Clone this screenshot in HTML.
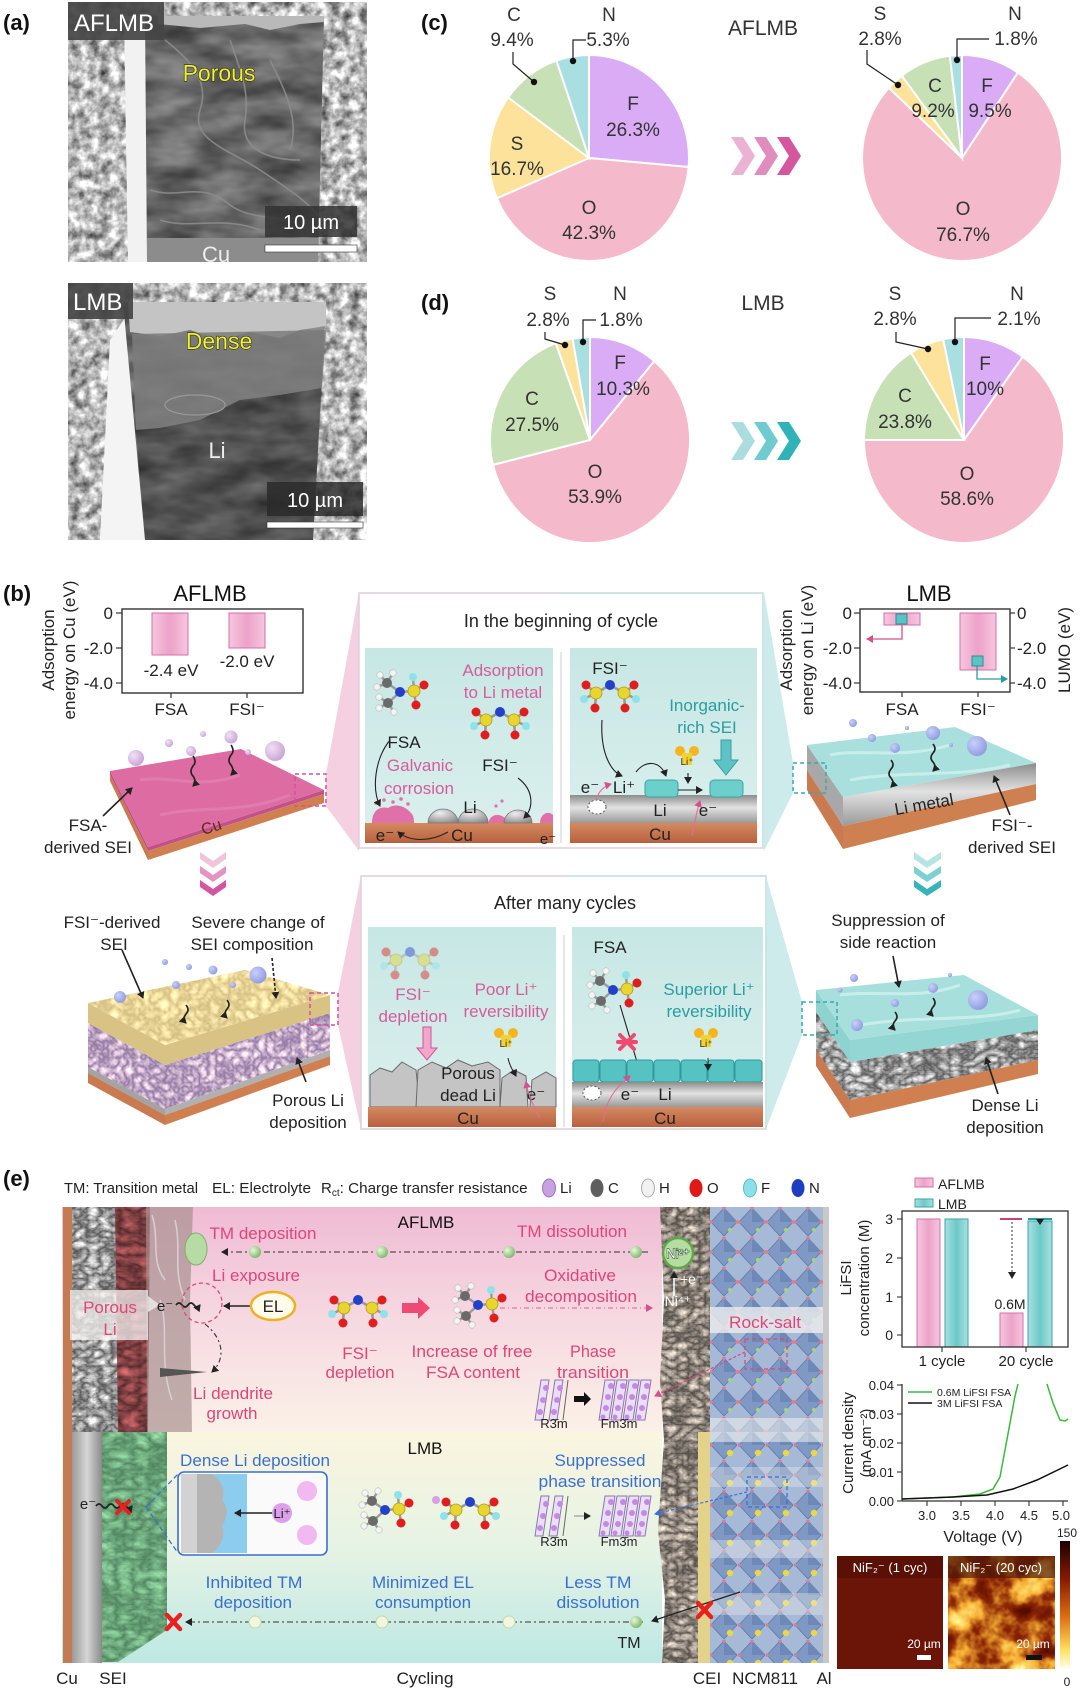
<!DOCTYPE html>
<html><head><meta charset="utf-8"><style>
html,body{margin:0;padding:0;background:#fff;}
svg{display:block;font-family:"Liberation Sans",Arial,sans-serif;}
</style></head><body>
<svg width="1080" height="1689" viewBox="0 0 1080 1689" xmlns="http://www.w3.org/2000/svg">
<defs>
<filter id="fLight" x="0" y="0" width="1" height="1" color-interpolation-filters="sRGB">
<feTurbulence type="fractalNoise" baseFrequency="0.1" numOctaves="4" seed="4"/>
<feColorMatrix type="matrix" values="1.2 0 0 0 0.12  1.2 0 0 0 0.12  1.2 0 0 0 0.12  0 0 0 0 1"/>
<feComposite operator="in" in2="SourceGraphic"/></filter>
<filter id="fDark" x="0" y="0" width="1" height="1" color-interpolation-filters="sRGB">
<feTurbulence type="fractalNoise" baseFrequency="0.02 0.05" numOctaves="3" seed="9"/>
<feColorMatrix type="matrix" values="0.45 0 0 0 0.18  0.45 0 0 0 0.18  0.45 0 0 0 0.18  0 0 0 0 1"/>
<feComposite operator="in" in2="SourceGraphic"/></filter>
<filter id="fMaroon" x="0" y="0" width="1" height="1" color-interpolation-filters="sRGB">
<feTurbulence type="turbulence" baseFrequency="0.05 0.09" numOctaves="3" seed="5"/>
<feColorMatrix type="matrix" values="0.7 0 0 0 0.3  0.35 0 0 0 0.15  0.35 0 0 0 0.16  0 0 0 0 1"/>
<feComposite operator="in" in2="SourceGraphic"/></filter>
<filter id="fGreen" x="0" y="0" width="1" height="1" color-interpolation-filters="sRGB">
<feTurbulence type="turbulence" baseFrequency="0.06 0.1" numOctaves="3" seed="6"/>
<feColorMatrix type="matrix" values="0.4 0 0 0 0.3  0.5 0 0 0 0.5  0.4 0 0 0 0.36  0 0 0 0 1"/>
<feComposite operator="in" in2="SourceGraphic"/></filter>
<filter id="fGray" x="0" y="0" width="1" height="1" color-interpolation-filters="sRGB">
<feTurbulence type="turbulence" baseFrequency="0.08 0.12" numOctaves="3" seed="2"/>
<feColorMatrix type="matrix" values="1.0 0 0 0 0.3  1.0 0 0 0 0.3  1.0 0 0 0 0.3  0 0 0 0 1"/>
<feComposite operator="in" in2="SourceGraphic"/></filter>
<filter id="fCEI" x="0" y="0" width="1" height="1" color-interpolation-filters="sRGB">
<feTurbulence type="turbulence" baseFrequency="0.09 0.12" numOctaves="3" seed="11"/>
<feColorMatrix type="matrix" values="0.9 0 0 0 0.28  0.85 0 0 0 0.26  0.8 0 0 0 0.24  0 0 0 0 1"/>
<feComposite operator="in" in2="SourceGraphic"/></filter>
<filter id="fPurple" x="0" y="0" width="1" height="1" color-interpolation-filters="sRGB">
<feTurbulence type="turbulence" baseFrequency="0.12" numOctaves="2" seed="3"/>
<feColorMatrix type="matrix" values="0.8 0 0 0 0.55  0.8 0 0 0 0.45  0.6 0 0 0 0.62  0 0 0 0 1"/>
<feComposite operator="in" in2="SourceGraphic"/></filter>
<filter id="fBeige" x="0" y="0" width="1" height="1" color-interpolation-filters="sRGB">
<feTurbulence type="turbulence" baseFrequency="0.1" numOctaves="2" seed="8"/>
<feColorMatrix type="matrix" values="0.4 0 0 0 0.82  0.4 0 0 0 0.74  0.4 0 0 0 0.5  0 0 0 0 1"/>
<feComposite operator="in" in2="SourceGraphic"/></filter>
<filter id="fHeat" x="0" y="0" width="1" height="1" color-interpolation-filters="sRGB">
<feTurbulence type="fractalNoise" baseFrequency="0.035" numOctaves="4" seed="7"/>
<feColorMatrix type="matrix" values="1 0 0 0 0  1 0 0 0 0  1 0 0 0 0  0 0 0 0 1"/>
<feComponentTransfer>
<feFuncR type="table" tableValues="0.3 0.35 0.55 0.97 1 1"/>
<feFuncG type="table" tableValues="0.03 0.05 0.15 0.68 0.97 1"/>
<feFuncB type="table" tableValues="0 0 0.02 0.2 0.55 0.8"/>
</feComponentTransfer>
<feComposite operator="in" in2="SourceGraphic"/></filter>

<clipPath id="cA1"><rect x="68" y="2" width="299" height="260"/></clipPath>
<clipPath id="cA2"><rect x="68" y="283" width="299" height="257"/></clipPath>

<linearGradient id="gBarP" x1="0" y1="0" x2="1" y2="0">
<stop offset="0" stop-color="#f6c6de"/><stop offset="0.5" stop-color="#eda2c9"/><stop offset="1" stop-color="#f6c6de"/></linearGradient>
<linearGradient id="gBarT" x1="0" y1="0" x2="1" y2="0">
<stop offset="0" stop-color="#a9e0de"/><stop offset="0.5" stop-color="#6cc9c8"/><stop offset="1" stop-color="#a9e0de"/></linearGradient>
<linearGradient id="gPanel" x1="0" y1="0" x2="0" y2="1">
<stop offset="0" stop-color="#c7e7e4"/><stop offset="1" stop-color="#dcf0ee"/></linearGradient>
<linearGradient id="gCu" x1="0" y1="0" x2="0" y2="1">
<stop offset="0" stop-color="#d48a60"/><stop offset="1" stop-color="#b8603e"/></linearGradient>
<linearGradient id="gLi" x1="0" y1="0" x2="0" y2="1">
<stop offset="0" stop-color="#8c8c8c"/><stop offset="0.45" stop-color="#e2e2e2"/><stop offset="1" stop-color="#999"/></linearGradient>
<linearGradient id="gLiV" x1="0" y1="0" x2="1" y2="0">
<stop offset="0" stop-color="#9a9a9a"/><stop offset="0.5" stop-color="#d6d6d6"/><stop offset="1" stop-color="#8a8a8a"/></linearGradient>
<linearGradient id="gETop" x1="0" y1="0" x2="0" y2="1">
<stop offset="0" stop-color="#efbbd4"/><stop offset="0.5" stop-color="#f6d9e1"/><stop offset="1" stop-color="#fbf1e7"/></linearGradient>
<linearGradient id="gEBot" x1="0" y1="0" x2="0" y2="1">
<stop offset="0" stop-color="#faf5df"/><stop offset="0.5" stop-color="#e6f3e4"/><stop offset="1" stop-color="#bde8e4"/></linearGradient>
<linearGradient id="gCbar" x1="0" y1="0" x2="0" y2="1">
<stop offset="0" stop-color="#1a0000"/><stop offset="0.3" stop-color="#8a1a02"/><stop offset="0.6" stop-color="#e07010"/><stop offset="0.85" stop-color="#ffe060"/><stop offset="1" stop-color="#fffff0"/></linearGradient>
<radialGradient id="gBubP" cx="0.35" cy="0.35" r="0.7">
<stop offset="0" stop-color="#f1e1f4"/><stop offset="1" stop-color="#c9a3d6"/></radialGradient>
<radialGradient id="gBubB" cx="0.35" cy="0.35" r="0.7">
<stop offset="0" stop-color="#c9d0fa"/><stop offset="1" stop-color="#8f9be0"/></radialGradient>
<radialGradient id="gDotG" cx="0.35" cy="0.35" r="0.7">
<stop offset="0" stop-color="#e8f8dc"/><stop offset="1" stop-color="#7db56a"/></radialGradient>
<radialGradient id="gBump" cx="0.4" cy="0.3" r="0.8">
<stop offset="0" stop-color="#eee"/><stop offset="1" stop-color="#888"/></radialGradient>

<pattern id="pNCM" x="710" y="1207" width="28" height="30" patternUnits="userSpaceOnUse">
<rect width="28" height="30" fill="#a6b9d6"/>
<polygon points="14,1 27,15 14,29 1,15" fill="#7f99c4" stroke="#5c79a8" stroke-width="0.8"/>
<polygon points="14,1 27,15 14,15" fill="#6d89b8"/>
<circle cx="14" cy="1" r="1.8" fill="#e27a92"/><circle cx="1" cy="15" r="1.8" fill="#e27a92"/>
<circle cx="27" cy="15" r="1.8" fill="#e27a92"/><circle cx="20" cy="23" r="2" fill="#a6d67c"/>
</pattern>
<pattern id="pNCM2" x="710" y="1430" width="28" height="30" patternUnits="userSpaceOnUse">
<rect width="28" height="30" fill="#a6b9d6"/>
<polygon points="14,1 27,15 14,29 1,15" fill="#7f99c4" stroke="#5c79a8" stroke-width="0.8"/>
<polygon points="14,1 27,15 14,15" fill="#6d89b8"/>
<circle cx="14" cy="1" r="1.8" fill="#e27a92"/><circle cx="1" cy="15" r="1.8" fill="#e27a92"/>
<circle cx="20" cy="23" r="3.2" fill="#e8d84a"/>
</pattern>

<g id="mFSI">
<g stroke="#9a9a9a" stroke-width="2.6">
<line x1="0" y1="-10" x2="-14" y2="-2"/><line x1="0" y1="-10" x2="14" y2="-2"/>
<line x1="-14" y1="-2" x2="-24" y2="-10"/><line x1="-14" y1="-2" x2="-15" y2="13"/><line x1="-14" y1="-2" x2="-26" y2="4"/>
<line x1="14" y1="-2" x2="24" y2="-10"/><line x1="14" y1="-2" x2="15" y2="13"/><line x1="14" y1="-2" x2="26" y2="4"/>
</g>
<circle cx="0" cy="-10" r="5" fill="#2340c8"/>
<circle cx="-14" cy="-2" r="6" fill="#e9d530" stroke="#b29c12" stroke-width="0.8"/>
<circle cx="14" cy="-2" r="6" fill="#e9d530" stroke="#b29c12" stroke-width="0.8"/>
<circle cx="-24" cy="-10" r="4.5" fill="#e01e1e"/><circle cx="-15" cy="13" r="4.5" fill="#e01e1e"/>
<circle cx="24" cy="-10" r="4.5" fill="#e01e1e"/><circle cx="15" cy="13" r="4.5" fill="#e01e1e"/>
<circle cx="-26" cy="4" r="4" fill="#8fe2ea"/><circle cx="26" cy="4" r="4" fill="#8fe2ea"/>
</g>
<g id="mFSA">
<g stroke="#9a9a9a" stroke-width="2.4">
<line x1="0" y1="0" x2="-13" y2="-9"/><line x1="0" y1="0" x2="-12" y2="11"/><line x1="0" y1="0" x2="14" y2="-1"/>
<line x1="-13" y1="-9" x2="-20" y2="-17"/><line x1="-13" y1="-9" x2="-7" y2="-19"/><line x1="-13" y1="-9" x2="-23" y2="-5"/>
<line x1="-12" y1="11" x2="-21" y2="16"/><line x1="-12" y1="11" x2="-6" y2="20"/><line x1="-12" y1="11" x2="-21" y2="5"/>
<line x1="14" y1="-1" x2="24" y2="-7"/><line x1="14" y1="-1" x2="16" y2="13"/><line x1="14" y1="-1" x2="13" y2="-15"/>
</g>
<circle cx="-13" cy="-9" r="5" fill="#6a6a6a"/><circle cx="-12" cy="11" r="5" fill="#6a6a6a"/>
<circle cx="-20" cy="-17" r="3.2" fill="#f4f4f4" stroke="#aaa" stroke-width=".5"/><circle cx="-7" cy="-19" r="3.2" fill="#f4f4f4" stroke="#aaa" stroke-width=".5"/>
<circle cx="-23" cy="-5" r="3.2" fill="#f4f4f4" stroke="#aaa" stroke-width=".5"/><circle cx="-21" cy="16" r="3.2" fill="#f4f4f4" stroke="#aaa" stroke-width=".5"/>
<circle cx="-6" cy="20" r="3.2" fill="#f4f4f4" stroke="#aaa" stroke-width=".5"/><circle cx="-21" cy="5" r="3.2" fill="#f4f4f4" stroke="#aaa" stroke-width=".5"/>
<circle cx="0" cy="0" r="5" fill="#2340c8"/>
<circle cx="14" cy="-1" r="6" fill="#e9d530" stroke="#b29c12" stroke-width="0.8"/>
<circle cx="24" cy="-7" r="4.5" fill="#e01e1e"/><circle cx="16" cy="13" r="4.5" fill="#e01e1e"/>
<circle cx="13" cy="-15" r="4" fill="#8fe2ea"/>
</g>
<g id="liY">
<circle cx="-7" cy="-7" r="5" fill="#f6b41e"/><circle cx="7" cy="-7" r="5" fill="#f6b41e"/>
<rect x="-5" y="-5" width="10" height="12" fill="#f2d233"/>
</g>
<g id="xtal">
<g fill="#eadff6" stroke="#8a78b0" stroke-width="1">
<polygon points="6,0 14,0 8,40 0,40"/><polygon points="20,0 28,0 22,40 14,40"/>
</g>
<g fill="#c48ae2"><circle cx="11" cy="8" r="3"/><circle cx="8" cy="20" r="3"/><circle cx="5" cy="32" r="3"/>
<circle cx="25" cy="8" r="3"/><circle cx="22" cy="20" r="3"/><circle cx="19" cy="32" r="3"/></g>
<line x1="33" y1="0" x2="28" y2="40" stroke="#666" stroke-width="1"/>
<g fill="#eadff6" stroke="#8a78b0" stroke-width="1">
<polygon points="70,0 80,0 74,40 64,40"/><polygon points="82,0 92,0 86,40 76,40"/><polygon points="94,0 104,0 98,40 88,40"/><polygon points="106,0 116,0 110,40 100,40"/>
</g>
<g fill="#c48ae2">
<circle cx="76" cy="6" r="3"/><circle cx="73" cy="17" r="3"/><circle cx="71" cy="28" r="3"/><circle cx="68" cy="37" r="2.5"/>
<circle cx="88" cy="6" r="3"/><circle cx="85" cy="17" r="3"/><circle cx="83" cy="28" r="3"/><circle cx="80" cy="37" r="2.5"/>
<circle cx="100" cy="6" r="3"/><circle cx="97" cy="17" r="3"/><circle cx="95" cy="28" r="3"/><circle cx="92" cy="37" r="2.5"/>
<circle cx="112" cy="6" r="3"/><circle cx="109" cy="17" r="3"/><circle cx="107" cy="28" r="3"/><circle cx="104" cy="37" r="2.5"/>
</g>
</g>
<marker id="ahB" markerWidth="8" markerHeight="8" refX="6" refY="4" orient="auto" markerUnits="userSpaceOnUse">
<path d="M0,0 L7,4 L0,8 Z" fill="#222"/></marker>
<marker id="ahP" markerWidth="8" markerHeight="8" refX="6" refY="4" orient="auto" markerUnits="userSpaceOnUse">
<path d="M0,0 L7,4 L0,8 Z" fill="#d6508c"/></marker>
<marker id="ahT" markerWidth="8" markerHeight="8" refX="6" refY="4" orient="auto" markerUnits="userSpaceOnUse">
<path d="M0,0 L7,4 L0,8 Z" fill="#2a9da3"/></marker>
<marker id="ahBl" markerWidth="8" markerHeight="8" refX="6" refY="4" orient="auto" markerUnits="userSpaceOnUse">
<path d="M0,0 L7,4 L0,8 Z" fill="#3a6fd8"/></marker>
</defs>

<rect width="1080" height="1689" fill="#fff"/>

<!-- ============ PANEL A ============ -->
<text x="3" y="30" font-size="22" font-weight="bold" fill="#111">(a)</text>
<g clip-path="url(#cA1)">
<rect x="68" y="2" width="299" height="260" fill="#ccc" filter="url(#fLight)"/>
<polygon points="124,16 146,16 148,262 128,262" fill="#f2f2f2"/>
<polygon points="145,16 324,16 318,262 147,262" fill="#666" filter="url(#fDark)"/>
<path d="M158,16 L324,16 L324,22 L300,24 L270,30 L245,24 L200,28 L158,24 Z" fill="#b9b9b9"/>
<g fill="none" stroke="#8e8e8e" stroke-width="1.6" opacity="0.85">
<path d="M165,40 C190,60 210,80 200,110 C190,140 230,150 260,170 C290,190 305,200 318,215"/>
<path d="M230,40 C240,70 250,90 245,120 C240,150 270,160 300,160"/>
<path d="M150,190 C180,200 200,180 230,205 C250,220 280,215 300,225"/>
<path d="M160,220 C190,230 220,215 260,230"/>
<path d="M270,60 C285,90 300,120 290,150"/>
</g>
<rect x="147" y="238" width="171" height="24" fill="#8c8c8c"/>
<rect x="68" y="2" width="96" height="38" fill="#444" opacity="0.92"/>
<text x="74" y="31" font-size="24" fill="#fff">AFLMB</text>
<text x="219" y="81" font-size="23" text-anchor="middle" fill="#f2f22a" stroke="#2a2a2a" stroke-width="1.2" paint-order="stroke">Porous</text>
<rect x="265" y="206" width="92" height="31" fill="#333" opacity="0.85"/>
<text x="311" y="229" font-size="20" text-anchor="middle" fill="#fff">10 µm</text>
<rect x="265" y="245" width="92" height="7" fill="#fff" stroke="#333" stroke-width="0.6"/>
<text x="216" y="262" font-size="22" text-anchor="middle" fill="#eee">Cu</text>
</g>
<g clip-path="url(#cA2)">
<rect x="68" y="283" width="299" height="257" fill="#ccc" filter="url(#fLight)"/>
<polygon points="110,340 137,300 146,540 100,540" fill="#f4f4f4"/>
<polygon points="123,302 326,302 313,540 145,540" fill="#555" filter="url(#fDark)"/>
<path d="M128,302 L326,302 L326,326 L300,330 L280,338 L250,332 L220,340 L190,330 L160,336 L130,332 Z" fill="#c4c4c4"/>
<path d="M132,334 L326,330 L322,388 L280,395 L240,400 L200,420 L160,428 L136,430 Z" fill="#7c7c7c" opacity="0.85"/>
<path d="M136,430 L160,428 L200,420 L240,400 L280,395 L322,388 L313,540 L145,540 Z" fill="#000" opacity="0.22"/>
<ellipse cx="195" cy="405" rx="30" ry="10" fill="none" stroke="#999" stroke-width="1.2"/>
<rect x="68" y="283" width="65" height="36" fill="#444" opacity="0.92"/>
<text x="73" y="310" font-size="24" fill="#fff">LMB</text>
<text x="219" y="349" font-size="23" text-anchor="middle" fill="#f2f22a" stroke="#2a2a2a" stroke-width="1.2" paint-order="stroke">Dense</text>
<text x="217" y="458" font-size="22" text-anchor="middle" fill="#eee">Li</text>
<rect x="267" y="482" width="96" height="34" fill="#2a2a2a" opacity="0.85"/>
<text x="315" y="507" font-size="20" text-anchor="middle" fill="#fff">10 µm</text>
<rect x="267" y="522" width="96" height="6" fill="#fff" stroke="#333" stroke-width="0.6"/>
</g>

<!-- ============ PANEL C/D pies ============ -->
<text x="421" y="30" font-size="22" font-weight="bold" fill="#111">(c)</text>
<text x="421" y="310" font-size="22" font-weight="bold" fill="#111">(d)</text>
<g stroke="#fff" stroke-width="2">
<path d="M589,158 L589,55 A100,103 0 0,1 688.6,167 Z" fill="#d9acf5"/>
<path d="M589,158 L688.6,167 A100,103 0 0,1 496.9,198.2 Z" fill="#f4b9cb"/>
<path d="M589,158 L496.9,198.2 A100,103 0 0,1 508.1,97.5 Z" fill="#fce29a"/>
<path d="M589,158 L508.1,97.5 A100,103 0 0,1 556.4,60.6 Z" fill="#c8e0b6"/>
<path d="M589,158 L556.4,60.6 A100,103 0 0,1 589,55 Z" fill="#aadfe2"/>
<path d="M962,158 L962,55 A100,103 0 0,1 1017.9,72.6 Z" fill="#d9acf5"/>
<path d="M962,158 L1017.9,72.6 A100,103 0 1,1 888.9,87.8 Z" fill="#f4b9cb"/>
<path d="M962,158 L888.9,87.8 A100,103 0 0,1 901.8,75.7 Z" fill="#fce29a"/>
<path d="M962,158 L901.8,75.7 A100,103 0 0,1 949.8,55.8 Z" fill="#c8e0b6"/>
<path d="M962,158 L949.8,55.8 A100,103 0 0,1 962,55 Z" fill="#aadfe2"/>
<path d="M590,440 L590,337 A100,103 0 0,1 654.3,361.1 Z" fill="#d9acf5"/>
<path d="M590,440 L654.3,361.1 A100,103 0 1,1 493,464.9 Z" fill="#f4b9cb"/>
<path d="M590,440 L493,464.9 A100,103 0 0,1 555.8,343.2 Z" fill="#c8e0b6"/>
<path d="M590,440 L555.8,343.2 A100,103 0 0,1 572.6,338.6 Z" fill="#fce29a"/>
<path d="M590,440 L572.6,338.6 A100,103 0 0,1 590,337 Z" fill="#aadfe2"/>
<path d="M964,440 L964,337 A100,103 0 0,1 1022.8,356.7 Z" fill="#d9acf5"/>
<path d="M964,440 L1022.8,356.7 A100,103 0 1,1 864,440 Z" fill="#f4b9cb"/>
<path d="M964,440 L864,440 A100,103 0 0,1 911,352.7 Z" fill="#c8e0b6"/>
<path d="M964,440 L911,352.7 A100,103 0 0,1 943.2,339.3 Z" fill="#fce29a"/>
<path d="M964,440 L943.2,339.3 A100,103 0 0,1 964,337 Z" fill="#aadfe2"/>
</g>
<g font-size="19" text-anchor="middle" fill="#333">
<text x="514" y="21">C</text><text x="512" y="46">9.4%</text>
<text x="609" y="21">N</text><text x="608" y="46">5.3%</text>
<text x="633" y="110">F</text><text x="633" y="136">26.3%</text>
<text x="517" y="150">S</text><text x="517" y="175">16.7%</text>
<text x="589" y="214">O</text><text x="589" y="239">42.3%</text>
<text x="880" y="20">S</text><text x="880" y="45">2.8%</text>
<text x="1015" y="20">N</text><text x="1016" y="45">1.8%</text>
<text x="935" y="92">C</text><text x="933" y="117">9.2%</text>
<text x="987" y="92">F</text><text x="990" y="117">9.5%</text>
<text x="963" y="215">O</text><text x="963" y="241">76.7%</text>
<text x="550" y="300">S</text><text x="548" y="326">2.8%</text>
<text x="620" y="300">N</text><text x="621" y="326">1.8%</text>
<text x="620" y="369">F</text><text x="623" y="395">10.3%</text>
<text x="532" y="405">C</text><text x="532" y="431">27.5%</text>
<text x="595" y="478">O</text><text x="595" y="503">53.9%</text>
<text x="895" y="300">S</text><text x="895" y="325">2.8%</text>
<text x="1017" y="300">N</text><text x="1019" y="325">2.1%</text>
<text x="985" y="370">F</text><text x="985" y="395">10%</text>
<text x="905" y="402">C</text><text x="905" y="428">23.8%</text>
<text x="967" y="480">O</text><text x="967" y="505">58.6%</text>
<text x="763" y="35" font-size="21">AFLMB</text>
<text x="763" y="310" font-size="21">LMB</text>
</g>
<g fill="none" stroke="#222" stroke-width="1.2">
<polyline points="513,52 513,64 534,82"/><polyline points="586,40 573,40 573,61"/>
<polyline points="867,50 867,64 898,85"/><polyline points="989,39 957,39 957,60"/>
<polyline points="545,332 545,339 565,345"/><polyline points="596,320 583,320 583,342"/>
<polyline points="896,332 896,342 928,349"/><polyline points="991,318 955,318 955,342"/>
</g>
<g fill="#111">
<circle cx="534" cy="82" r="3.2"/><circle cx="573" cy="61" r="3.2"/><circle cx="898" cy="85" r="3.2"/><circle cx="957" cy="60" r="3.2"/>
<circle cx="565" cy="345" r="3.2"/><circle cx="583" cy="342" r="3.2"/><circle cx="928" cy="349" r="3.2"/><circle cx="955" cy="342" r="3.2"/>
</g>
<polygon points="731,137 743,137 755,156 743,175 731,175 743,156" fill="#ebb3d3"/>
<polygon points="754,137 766,137 778,156 766,175 754,175 766,156" fill="#e08dbd"/>
<polygon points="777,137 789,137 801,156 789,175 777,175 789,156" fill="#d3569f"/>
<polygon points="731,422 743,422 755,441 743,460 731,460 743,441" fill="#abdddf"/>
<polygon points="754,422 766,422 778,441 766,460 754,460 766,441" fill="#6fcbcf"/>
<polygon points="777,422 789,422 801,441 789,460 777,460 789,441" fill="#2fb2b8"/>

<!-- ============ PANEL B ============ -->
<text x="3" y="601" font-size="22" font-weight="bold" fill="#111">(b)</text>
<polygon points="326,774 359,592 359,851 326,806" fill="#f4d0e1"/>
<polygon points="764,592 793,763 793,793 764,851" fill="#cdebea"/>
<polygon points="338,993 361,876 361,1129 338,1025" fill="#f4d0e1"/>
<polygon points="766,876 802,1002 802,1035 766,1129" fill="#cdebea"/>

<text x="210" y="601" font-size="22" text-anchor="middle" fill="#111">AFLMB</text>
<rect x="152" y="613" width="36" height="42" fill="url(#gBarP)" stroke="#d070a8" stroke-width="1"/>
<rect x="229" y="613" width="36" height="35" fill="url(#gBarP)" stroke="#d070a8" stroke-width="1"/>
<rect x="122" y="609" width="181" height="84" fill="none" stroke="#333" stroke-width="1.4"/>
<g stroke="#333" stroke-width="1.2"><line x1="116" y1="613" x2="122" y2="613"/><line x1="116" y1="648" x2="122" y2="648"/><line x1="116" y1="683" x2="122" y2="683"/>
<line x1="171" y1="693" x2="171" y2="698"/><line x1="247" y1="693" x2="247" y2="698"/></g>
<g font-size="17" fill="#222">
<text x="113" y="619" text-anchor="end">0</text><text x="113" y="654" text-anchor="end">-2.0</text><text x="113" y="689" text-anchor="end">-4.0</text>
<text x="171" y="676" text-anchor="middle">-2.4 eV</text><text x="247" y="667" text-anchor="middle">-2.0 eV</text>
<text x="171" y="715" text-anchor="middle">FSA</text><text x="247" y="715" text-anchor="middle">FSI⁻</text>
<text transform="translate(54,650) rotate(-90)" text-anchor="middle">Adsorption</text>
<text transform="translate(75,650) rotate(-90)" text-anchor="middle">energy on Cu (eV)</text>
</g>

<text x="929" y="601" font-size="22" text-anchor="middle" fill="#111">LMB</text>
<rect x="884" y="613" width="36" height="12" fill="url(#gBarP)" stroke="#d070a8" stroke-width="1"/>
<rect x="960" y="613" width="36" height="57" fill="url(#gBarP)" stroke="#d070a8" stroke-width="1"/>
<rect x="896" y="614" width="11" height="10" fill="#5bc3c4" stroke="#2a8f95"/>
<rect x="972" y="656" width="11" height="10" fill="#5bc3c4" stroke="#2a8f95"/>
<polyline points="902,625 902,639 867,639" fill="none" stroke="#d6508c" stroke-width="1.3" marker-end="url(#ahP)"/>
<polyline points="977,666 977,679 1007,679" fill="none" stroke="#2a9da3" stroke-width="1.3" marker-end="url(#ahT)"/>
<rect x="860" y="609" width="150" height="83" fill="none" stroke="#333" stroke-width="1.4"/>
<g stroke="#333" stroke-width="1.2"><line x1="854" y1="613" x2="860" y2="613"/><line x1="854" y1="648" x2="860" y2="648"/><line x1="854" y1="683" x2="860" y2="683"/>
<line x1="1010" y1="613" x2="1015" y2="613"/><line x1="1010" y1="648" x2="1015" y2="648"/><line x1="1010" y1="683" x2="1015" y2="683"/>
<line x1="902" y1="692" x2="902" y2="697"/><line x1="978" y1="692" x2="978" y2="697"/></g>
<g font-size="17" fill="#222">
<text x="852" y="619" text-anchor="end">0</text><text x="852" y="654" text-anchor="end">-2.0</text><text x="852" y="689" text-anchor="end">-4.0</text>
<text x="1017" y="619">0</text><text x="1017" y="654">-2.0</text><text x="1017" y="689">-4.0</text>
<text x="902" y="715" text-anchor="middle">FSA</text><text x="978" y="715" text-anchor="middle">FSI⁻</text>
<text transform="translate(792,650) rotate(-90)" text-anchor="middle">Adsorption</text>
<text transform="translate(813,650) rotate(-90)" text-anchor="middle">energy on Li (eV)</text>
<text transform="translate(1070,650) rotate(-90)" text-anchor="middle">LUMO (eV)</text>
</g>

<!-- AFLMB top slab -->
<polygon points="110,771 148,847 148,851 110,775" fill="#c2508a"/>
<polygon points="110,775 148,851 148,860 110,781" fill="#c77a4c"/>
<polygon points="148,847 324,790 324,794 148,851" fill="#c2508a"/>
<polygon points="148,851 324,794 324,803 148,860" fill="#d08050"/>
<polygon points="110,771 241,749 324,790 148,847" fill="#dc6ca2"/>
<path d="M140,780 C170,775 200,790 240,775 M160,815 C200,805 240,815 290,795" stroke="#e588b6" stroke-width="3" fill="none" opacity="0.6"/>
<text transform="translate(213,832) rotate(-18)" font-size="16" text-anchor="middle" fill="#5a2a1a">Cu</text>
<g fill="url(#gBubP)">
<circle cx="136" cy="758" r="8"/><circle cx="169" cy="743" r="4"/><circle cx="191" cy="751" r="5"/><circle cx="203" cy="734" r="3"/><circle cx="231" cy="737" r="6.5"/><circle cx="275" cy="751" r="10"/><circle cx="248" cy="752" r="3"/>
</g>
<g fill="none" stroke="#222" stroke-width="1.6">
<path d="M193,756 q4,6 0,10 q-4,6 0,10 q4,6 0,10" marker-end="url(#ahB)"/>
<path d="M231,745 q4,6 0,10 q-4,6 0,10 q4,6 0,10" marker-end="url(#ahB)"/>
<line x1="103" y1="816" x2="132" y2="788" marker-end="url(#ahB)"/>
</g>
<rect x="295" y="774" width="31" height="32" fill="none" stroke="#d6509a" stroke-width="1.5" stroke-dasharray="4,3"/>
<g font-size="17" text-anchor="middle" fill="#222"><text x="88" y="831">FSA-</text><text x="88" y="853">derived SEI</text></g>
<polygon points="200,852 213,861 226,852 226,859 213,868 200,859" fill="#f2c4da"/>
<polygon points="200,866 213,875 226,866 226,873 213,882 200,873" fill="#e494c2"/>
<polygon points="200,880 213,889 226,880 226,887 213,896 200,887" fill="#d3569f"/>

<!-- LMB top slab -->
<polygon points="807,745 843,797 843,826 807,770" fill="#a8a8a8"/>
<polygon points="807,770 843,826 843,849 807,790" fill="#c97a50"/>
<polygon points="843,797 1036,763 1036,784 843,826" fill="url(#gLi)"/>
<polygon points="843,826 1036,784 1036,800 843,849" fill="#cf8050"/>
<polygon points="807,745 955,727 1036,763 843,797" fill="#a9e0dd"/>
<path d="M830,755 C860,748 900,760 950,745 M850,780 C900,770 960,778 1010,765" stroke="#c8eeec" stroke-width="3" fill="none"/>
<text transform="translate(925,810) rotate(-10)" font-size="17" text-anchor="middle" fill="#222">Li metal</text>
<g fill="url(#gBubB)">
<circle cx="853" cy="723" r="4"/><circle cx="872" cy="738" r="4"/><circle cx="895" cy="748" r="5"/><circle cx="933" cy="733" r="7"/><circle cx="977" cy="746" r="10"/><circle cx="907" cy="728" r="2"/><circle cx="951" cy="745" r="2"/>
</g>
<g fill="none" stroke="#222" stroke-width="1.6">
<path d="M891,760 q4,5 0,9 q-4,5 0,9 q4,5 0,9" marker-end="url(#ahB)"/>
<path d="M933,744 q4,5 0,9 q-4,5 0,9 q4,5 0,9" marker-end="url(#ahB)"/>
<line x1="1010" y1="815" x2="994" y2="776" marker-end="url(#ahB)"/>
</g>
<rect x="793" y="763" width="33" height="30" fill="none" stroke="#3aa8ad" stroke-width="1.5" stroke-dasharray="4,3"/>
<g font-size="17" text-anchor="middle" fill="#222"><text x="1012" y="831">FSI⁻-</text><text x="1012" y="853">derived SEI</text></g>
<polygon points="914,852 927,861 941,852 941,859 927,868 914,859" fill="#b7e3e3"/>
<polygon points="914,866 927,875 941,866 941,873 927,882 914,873" fill="#7dd0d2"/>
<polygon points="914,880 927,889 941,880 941,887 927,896 914,887" fill="#36b4ba"/>

<!-- AFLMB lower slab -->
<polygon points="88,1003 165,1045 165,1065 88,1023" fill="#d9c384"/>
<polygon points="88,1023 165,1065 165,1109 88,1067" fill="#b9a0c8" filter="url(#fPurple)"/>
<polygon points="88,1067 165,1109 165,1115 88,1073" fill="#a3a3a3"/>
<polygon points="88,1073 165,1115 165,1125 88,1083" fill="#c97a50"/>
<polygon points="165,1045 330,995 330,1013 165,1065" fill="#d9c384"/>
<polygon points="165,1065 330,1013 330,1050 165,1109" fill="#b9a0c8" filter="url(#fPurple)"/>
<polygon points="165,1109 330,1050 330,1056 165,1115" fill="#b0b0b0"/>
<polygon points="165,1115 330,1056 330,1065 165,1125" fill="#d08050"/>
<polygon points="88,1003 245,970 330,995 165,1045" fill="#e2cf92" filter="url(#fBeige)"/>
<g fill="url(#gBubB)">
<circle cx="120" cy="997" r="6"/><circle cx="165" cy="962" r="3"/><circle cx="176" cy="985" r="4"/><circle cx="189" cy="967" r="3"/><circle cx="213" cy="970" r="4.5"/><circle cx="258" cy="975" r="8.5"/><circle cx="233" cy="985" r="3"/>
</g>
<g fill="none" stroke="#222" stroke-width="1.6">
<path d="M186,1005 q4,5 0,9 q-4,5 0,9" marker-end="url(#ahB)"/>
<path d="M227,1000 q4,5 0,9 q-4,5 0,9" marker-end="url(#ahB)"/>
<line x1="122" y1="950" x2="143" y2="998" marker-end="url(#ahB)"/>
<line x1="272" y1="958" x2="276" y2="998" marker-end="url(#ahB)" stroke-dasharray="3,2"/>
<line x1="306" y1="1082" x2="297" y2="1058" marker-end="url(#ahB)"/>
</g>
<rect x="310" y="993" width="28" height="32" fill="none" stroke="#d6509a" stroke-width="1.5" stroke-dasharray="4,3"/>
<g font-size="17" text-anchor="middle" fill="#222">
<text x="112" y="928">FSI⁻-derived</text><text x="114" y="950">SEI</text>
<text x="258" y="928">Severe change of</text><text x="252" y="950">SEI composition</text>
<text x="308" y="1106">Porous Li</text><text x="308" y="1128">deposition</text>
<text x="888" y="926">Suppression of</text><text x="888" y="948">side reaction</text>
<text x="1005" y="1111">Dense Li</text><text x="1005" y="1133">deposition</text>
</g>

<!-- LMB lower slab -->
<polygon points="816,990 850,1040 850,1062 816,1012" fill="#8fd3d0"/>
<polygon points="816,1012 850,1062 850,1100 816,1050" fill="#9a9a9a" filter="url(#fGray)"/>
<polygon points="816,1050 850,1100 850,1118 816,1066" fill="#c97a50"/>
<polygon points="850,1040 1038,1015 1038,1030 850,1062" fill="#93d6d3"/>
<polygon points="850,1062 1038,1030 1038,1060 850,1100" fill="#999" filter="url(#fGray)"/>
<polygon points="850,1100 1038,1060 1038,1074 850,1118" fill="#d08050"/>
<polygon points="816,990 964,975 1038,1015 850,1040" fill="#a6dfdc"/>
<path d="M840,995 C880,990 920,1000 960,985 M860,1025 C920,1015 980,1022 1020,1010" stroke="#c8eeec" stroke-width="3" fill="none"/>
<g fill="url(#gBubB)">
<circle cx="854" cy="978" r="4"/><circle cx="840" cy="990" r="2.5"/><circle cx="895" cy="1003" r="4"/><circle cx="933" cy="988" r="5"/><circle cx="857" cy="1025" r="6"/><circle cx="978" cy="1000" r="10"/><circle cx="950" cy="975" r="2"/>
</g>
<g fill="none" stroke="#222" stroke-width="1.6">
<path d="M895,1012 q4,5 0,9 q-4,5 0,9" marker-end="url(#ahB)"/>
<path d="M933,998 q4,5 0,9 q-4,5 0,9" marker-end="url(#ahB)"/>
<line x1="893" y1="956" x2="899" y2="987" marker-end="url(#ahB)"/>
<line x1="998" y1="1094" x2="986" y2="1058" marker-end="url(#ahB)"/>
</g>
<rect x="802" y="1002" width="35" height="33" fill="none" stroke="#3aa8ad" stroke-width="1.5" stroke-dasharray="4,3"/>

<!-- Top middle box -->
<rect x="359" y="593" width="404" height="255" fill="#fff" stroke="#e3d0dc" stroke-width="1.6"/>
<line x1="561" y1="593" x2="763" y2="593" stroke="#c6e6e5" stroke-width="1.6"/>
<line x1="763" y1="593" x2="763" y2="848" stroke="#c6e6e5" stroke-width="1.6"/>
<text x="561" y="627" font-size="18" text-anchor="middle" fill="#222">In the beginning of cycle</text>
<rect x="365" y="648" width="188" height="195" fill="url(#gPanel)"/>
<rect x="570" y="648" width="187" height="195" fill="url(#gPanel)"/>
<line x1="561" y1="652" x2="561" y2="843" stroke="#ccc" stroke-width="1"/>
<rect x="365" y="823" width="188" height="20" fill="url(#gCu)"/>
<path d="M372,823 C372,810 380,806 388,808 C395,803 405,806 410,812 C414,815 414,820 414,823 Z" fill="#e070a8"/>
<path d="M488,823 C490,815 498,812 505,818 L505,823 Z" fill="#e070a8"/>
<path d="M540,823 C540,814 548,810 553,815 L553,823 Z" fill="#e070a8"/>
<g fill="#e070a8"><circle cx="376" cy="803" r="1.8"/><circle cx="384" cy="800" r="1.8"/><circle cx="393" cy="802" r="1.8"/><circle cx="401" cy="799" r="1.8"/><circle cx="408" cy="804" r="1.8"/><circle cx="496" cy="806" r="1.6"/><circle cx="502" cy="801" r="1.6"/></g>
<g fill="url(#gBump)" stroke="#777" stroke-width="0.8">
<path d="M428,823 A15,14 0 0,1 458,823 Z"/><path d="M458,823 A15,14 0 0,1 488,823 Z"/><path d="M504,823 A14,13 0 0,1 532,823 Z"/>
</g>
<use href="#mFSA" x="400" y="692"/>
<use href="#mFSI" x="500" y="722"/>
<g font-size="17" text-anchor="middle" fill="#222">
<text x="404" y="748">FSA</text><text x="500" y="771">FSI⁻</text><text x="470" y="813">Li</text>
<text x="385" y="841">e⁻</text><text x="462" y="841">Cu</text><text x="548" y="844" font-size="15">e⁻</text>
</g>
<g font-size="17" text-anchor="middle" fill="#d65c9c">
<text x="503" y="676">Adsorption</text><text x="503" y="698">to Li metal</text>
<text x="420" y="771">Galvanic</text><text x="419" y="794">corrosion</text>
</g>
<g fill="none" stroke="#222" stroke-width="1.1">
<path d="M390,740 C374,760 372,790 380,806" marker-end="url(#ahB)"/>
<path d="M518,778 C534,790 534,808 524,818" marker-end="url(#ahB)"/>
<path d="M448,832 C430,842 410,842 398,832" marker-end="url(#ahB)"/>
</g>
<rect x="570" y="795" width="187" height="28" fill="url(#gLi)"/>
<rect x="570" y="823" width="187" height="20" fill="url(#gCu)"/>
<rect x="645" y="780" width="33" height="17" rx="4" fill="#6ccfcc" stroke="#3aa6a8"/>
<rect x="710" y="780" width="33" height="17" rx="4" fill="#6ccfcc" stroke="#3aa6a8"/>
<use href="#mFSI" x="610" y="695"/>
<use href="#liY" x="687" y="758"/>
<text x="687" y="765" font-size="10" text-anchor="middle" fill="#333">Li⁺</text>
<polygon points="721,740 731,740 731,760 738,760 726,775 714,760 721,760" fill="#5ec3c5" stroke="#3a9fa3"/>
<ellipse cx="597" cy="807" rx="9" ry="7" fill="#fff" stroke="#555" stroke-dasharray="2,2"/>
<g fill="none" stroke="#222" stroke-width="1.1">
<path d="M602,720 C600,755 612,772 622,776" marker-end="url(#ahB)"/>
<path d="M636,772 C645,760 660,760 666,776" marker-end="url(#ahB)"/>
<line x1="688" y1="773" x2="688" y2="783" marker-end="url(#ahB)"/>
<line x1="678" y1="790" x2="702" y2="790" marker-end="url(#ahB)"/>
</g>
<g fill="none" stroke="#e56b95" stroke-width="1.1">
<path d="M596,800 C598,792 604,786 611,784" marker-end="url(#ahP)"/>
<path d="M692,836 C695,820 697,810 700,801" marker-end="url(#ahP)"/>
</g>
<g font-size="17" text-anchor="middle" fill="#222">
<text x="610" y="674">FSI⁻</text><text x="590" y="793">e⁻</text><text x="624" y="793">Li⁺</text>
<text x="660" y="816">Li</text><text x="708" y="816">e⁻</text><text x="660" y="840">Cu</text>
</g>
<g font-size="17" text-anchor="middle" fill="#2a9da0"><text x="707" y="711">Inorganic-</text><text x="707" y="733">rich SEI</text></g>

<!-- Bottom middle box -->
<rect x="361" y="876" width="405" height="253" fill="#fff" stroke="#e3d0dc" stroke-width="1.6"/>
<line x1="565" y1="876" x2="766" y2="876" stroke="#c6e6e5" stroke-width="1.6"/>
<line x1="766" y1="876" x2="766" y2="1129" stroke="#c6e6e5" stroke-width="1.6"/>
<text x="565" y="909" font-size="18" text-anchor="middle" fill="#222">After many cycles</text>
<rect x="368" y="927" width="188" height="200" fill="url(#gPanel)"/>
<rect x="572" y="927" width="191" height="200" fill="url(#gPanel)"/>
<line x1="564" y1="935" x2="564" y2="1127" stroke="#ccc"/>
<g opacity="0.45"><use href="#mFSI" x="410" y="962"/></g>
<g font-size="17" text-anchor="middle" fill="#d65c9c">
<text x="413" y="1000">FSI⁻</text><text x="413" y="1022">depletion</text>
<text x="506" y="995">Poor Li⁺</text><text x="506" y="1017">reversibility</text>
</g>
<polygon points="423,1027 431,1027 431,1048 437,1048 427,1060 417,1048 423,1048" fill="#f2a6cc" stroke="#d6509a"/>
<use href="#liY" x="506" y="1040"/>
<text x="506" y="1047" font-size="10" text-anchor="middle" fill="#333">Li⁺</text>
<g fill="#c4c4c4" stroke="#6a6a6a" stroke-width="1">
<path d="M370,1107 L370,1075 L380,1068 L392,1072 L402,1062 L416,1070 L420,1107 Z"/>
<path d="M416,1107 L418,1070 L432,1062 L446,1068 L458,1060 L472,1066 L488,1062 L500,1070 L500,1107 Z"/>
<path d="M500,1107 L502,1078 L514,1070 L526,1076 L528,1107 Z"/>
<path d="M530,1107 L532,1080 L546,1072 L556,1078 L556,1107 Z"/>
</g>
<rect x="368" y="1107" width="188" height="20" fill="url(#gCu)"/>
<g font-size="17" text-anchor="middle" fill="#222">
<text x="468" y="1079">Porous</text><text x="468" y="1101">dead Li</text><text x="536" y="1100">e⁻</text><text x="468" y="1124">Cu</text>
</g>
<path d="M540,1118 C530,1100 528,1092 526,1082" fill="none" stroke="#e56b95" stroke-width="1.1" marker-end="url(#ahP)"/>
<path d="M508,1058 C510,1068 514,1072 516,1076" fill="none" stroke="#222" stroke-width="1" marker-end="url(#ahB)"/>
<use href="#mFSA" x="613" y="990"/>
<line x1="620" y1="1005" x2="640" y2="1072" stroke="#222" stroke-width="1.1" marker-end="url(#ahB)"/>
<g stroke="#ef4a6e" stroke-width="4" stroke-linecap="round"><line x1="620" y1="1035" x2="634" y2="1049"/><line x1="634" y1="1035" x2="620" y2="1049"/><line x1="618" y1="1042" x2="636" y2="1042"/></g>
<g font-size="17" text-anchor="middle" fill="#2a9da0"><text x="709" y="995">Superior Li⁺</text><text x="709" y="1017">reversibility</text></g>
<use href="#liY" x="706" y="1040"/>
<text x="706" y="1047" font-size="10" text-anchor="middle" fill="#333">Li⁺</text>
<g fill="#56c2c2" stroke="#2e9a9e" stroke-width="1">
<rect x="573" y="1060" width="26" height="22" rx="3"/><rect x="600" y="1060" width="26" height="22" rx="3"/><rect x="627" y="1060" width="26" height="22" rx="3"/><rect x="654" y="1060" width="26" height="22" rx="3"/><rect x="681" y="1060" width="26" height="22" rx="3"/><rect x="708" y="1060" width="26" height="22" rx="3"/><rect x="735" y="1060" width="27" height="22" rx="3"/>
</g>
<rect x="572" y="1082" width="191" height="25" fill="url(#gLi)"/>
<rect x="572" y="1107" width="191" height="20" fill="url(#gCu)"/>
<ellipse cx="592" cy="1093" rx="9" ry="7" fill="#fff" stroke="#555" stroke-dasharray="2,2"/>
<g font-size="17" text-anchor="middle" fill="#222">
<text x="610" y="953">FSA</text><text x="665" y="1100">Li</text><text x="630" y="1100">e⁻</text><text x="665" y="1124">Cu</text>
</g>
<path d="M603,1122 C606,1100 615,1088 630,1076" fill="none" stroke="#e56b95" stroke-width="1.1" marker-end="url(#ahP)"/>
<line x1="708" y1="1058" x2="708" y2="1070" stroke="#222" marker-end="url(#ahB)"/>

<!-- ============ PANEL E ============ -->
<text x="3" y="1186" font-size="22" font-weight="bold" fill="#111">(e)</text>
<g font-size="15" fill="#222">
<text x="64" y="1193" textLength="134" lengthAdjust="spacingAndGlyphs">TM: Transition metal</text>
<text x="212" y="1193" textLength="99" lengthAdjust="spacingAndGlyphs">EL: Electrolyte</text>
<text x="321" y="1193">R<tspan font-size="10" dy="3">ct</tspan><tspan dy="-3" textLength="188" lengthAdjust="spacingAndGlyphs">: Charge transfer resistance</tspan></text>
<text x="560" y="1193">Li</text><text x="608" y="1193">C</text><text x="659" y="1193">H</text><text x="707" y="1193">O</text><text x="761" y="1193">F</text><text x="809" y="1193">N</text>
</g>
<ellipse cx="549" cy="1188" rx="6.5" ry="9" fill="#c9a0e0" stroke="#a070c0"/>
<ellipse cx="597" cy="1188" rx="6.5" ry="9" fill="#5e5e5e"/>
<ellipse cx="648" cy="1188" rx="6.5" ry="9" fill="#f2f2f2" stroke="#aaa"/>
<ellipse cx="696" cy="1188" rx="6.5" ry="9" fill="#e01818"/>
<ellipse cx="750" cy="1188" rx="6.5" ry="9" fill="#8ee0e8" stroke="#5bbcc4"/>
<ellipse cx="798" cy="1188" rx="6.5" ry="9" fill="#1f3fc0"/>

<rect x="62" y="1207" width="600" height="225" fill="url(#gETop)"/>
<rect x="62" y="1432" width="600" height="231" fill="url(#gEBot)"/>
<rect x="63" y="1207" width="9" height="456" fill="#c47a52"/>
<rect x="72" y="1207" width="46" height="225" fill="#888" filter="url(#fGray)"/>
<rect x="72" y="1432" width="30" height="231" fill="url(#gLiV)"/>
<path d="M115,1207 L150,1207 L148,1432 L118,1432 Z" fill="#7a3838" filter="url(#fMaroon)"/>
<path d="M146,1207 L193,1207 L190,1300 L192,1432 L147,1432 Z" fill="#a89090" opacity="0.7"/>
<path d="M152,1215 C160,1240 150,1260 165,1280 M160,1300 C170,1330 158,1360 172,1400 M175,1220 C182,1250 172,1270 185,1300" stroke="#d8d0d0" stroke-width="1.5" fill="none"/>
<path d="M102,1432 L167,1432 L167,1630 L118,1662 L102,1662 Z" fill="#5e9a6a" filter="url(#fGreen)"/>
<path d="M660,1207 L710,1207 L710,1663 L662,1663 L665,1600 L658,1530 L664,1440 L660,1380 L664,1300 Z" fill="#5a5048" filter="url(#fCEI)"/>
<rect x="698" y="1432" width="12" height="231" fill="#e2d28a"/>
<rect x="710" y="1207" width="113" height="225" fill="url(#pNCM)"/>
<rect x="710" y="1432" width="113" height="231" fill="url(#pNCM2)"/>
<rect x="710" y="1307" width="113" height="26" fill="#eee" opacity="0.8"/>
<rect x="710" y="1418" width="113" height="24" fill="#f2f2ee" opacity="0.55"/>
<rect x="710" y="1467" width="113" height="20" fill="#f2f2ee" opacity="0.35"/>
<rect x="710" y="1540" width="113" height="18" fill="#f2f2ee" opacity="0.35"/>
<rect x="710" y="1593" width="113" height="22" fill="#f2f2ee" opacity="0.35"/>
<rect x="823" y="1207" width="6" height="456" fill="#c8c8c8"/>
<text x="765" y="1328" font-size="17" text-anchor="middle" fill="#e0457a" textLength="72" lengthAdjust="spacingAndGlyphs">Rock-salt</text>
<rect x="745" y="1339" width="42" height="30" fill="none" stroke="#e0457a" stroke-width="1.3" stroke-dasharray="4,3"/>
<rect x="747" y="1477" width="40" height="30" fill="none" stroke="#3a6fd8" stroke-width="1.3" stroke-dasharray="4,3"/>

<text x="426" y="1228" font-size="17" text-anchor="middle" fill="#111">AFLMB</text>
<g font-size="17" text-anchor="middle" fill="#e0457a">
<text x="263" y="1239" textLength="107" lengthAdjust="spacingAndGlyphs">TM deposition</text>
<text x="572" y="1237" textLength="110" lengthAdjust="spacingAndGlyphs">TM dissolution</text>
<text x="256" y="1281" textLength="88" lengthAdjust="spacingAndGlyphs">Li exposure</text>
<text x="580" y="1281" textLength="72" lengthAdjust="spacingAndGlyphs">Oxidative</text>
<text x="581" y="1302" textLength="112" lengthAdjust="spacingAndGlyphs">decomposition</text>
<text x="360" y="1359">FSI⁻</text>
<text x="360" y="1378" textLength="69" lengthAdjust="spacingAndGlyphs">depletion</text>
<text x="472" y="1357" textLength="121" lengthAdjust="spacingAndGlyphs">Increase of free</text>
<text x="473" y="1378" textLength="94" lengthAdjust="spacingAndGlyphs">FSA content</text>
<text x="593" y="1357" textLength="46" lengthAdjust="spacingAndGlyphs">Phase</text>
<text x="593" y="1378" textLength="72" lengthAdjust="spacingAndGlyphs">transition</text>
<text x="233" y="1399" textLength="80" lengthAdjust="spacingAndGlyphs">Li dendrite</text>
<text x="232" y="1419" textLength="51" lengthAdjust="spacingAndGlyphs">growth</text>
</g>
<line x1="648" y1="1252" x2="222" y2="1252" stroke="#333" stroke-width="1.1" stroke-dasharray="6,3,2,3" marker-end="url(#ahB)"/>
<g fill="url(#gDotG)"><circle cx="255" cy="1252" r="6"/><circle cx="382" cy="1252" r="6"/><circle cx="509" cy="1252" r="6"/><circle cx="636" cy="1252" r="6"/></g>
<ellipse cx="196" cy="1249" rx="11" ry="16" fill="#b7dca3" stroke="#7ab36a"/>
<circle cx="678" cy="1253" r="15" fill="#b6dca4" stroke="#5fa84a" stroke-width="2.5"/>
<text x="678" y="1258" font-size="13" text-anchor="middle" fill="#fff" stroke="#2e5a2e" stroke-width="1.2" paint-order="stroke">Ni²⁺</text>
<line x1="674" y1="1296" x2="674" y2="1272" stroke="#fff" stroke-width="1.5" marker-end="url(#ahB)"/>
<text x="680" y="1284" font-size="14" fill="#fff">+e⁻</text>
<text x="678" y="1306" font-size="14" text-anchor="middle" fill="#fff">Ni⁴⁺</text>
<path d="M148,1296 L160,1305 L148,1312 Z" fill="#eee" opacity="0.8"/>
<rect x="70" y="1290" width="78" height="50" fill="#f6f2f2" opacity="0.75"/>
<g font-size="17" text-anchor="middle" fill="#e0457a"><text x="110" y="1313">Porous</text><text x="110" y="1335">Li</text></g>
<text x="165" y="1311" font-size="15" text-anchor="middle" fill="#222">e⁻</text>
<path d="M176,1305 q3,-4 6,0 q3,4 6,0 q3,-4 6,0 q3,4 6,0" fill="none" stroke="#222" stroke-width="1.8" marker-end="url(#ahB)"/>
<circle cx="202" cy="1303" r="20" fill="none" stroke="#e0457a" stroke-width="1.3" stroke-dasharray="4,3"/>
<line x1="252" y1="1306" x2="224" y2="1306" stroke="#222" stroke-width="1.5" marker-end="url(#ahB)"/>
<ellipse cx="273" cy="1306" rx="22" ry="14" fill="#fffbea" stroke="#f0b020" stroke-width="2.5"/>
<text x="273" y="1312" font-size="17" text-anchor="middle" fill="#222">EL</text>
<path d="M205,1324 C225,1340 225,1360 212,1372" fill="none" stroke="#333" stroke-width="1.1" stroke-dasharray="5,3,2,3" marker-end="url(#ahB)"/>
<polygon points="160,1368 207,1372 160,1377" fill="#555"/>
<use href="#mFSI" x="358" y="1310"/>
<polygon points="402,1303 418,1303 418,1297 430,1308 418,1319 418,1313 402,1313" fill="#ee4a74"/>
<use href="#mFSA" x="478" y="1305"/>
<line x1="500" y1="1308" x2="652" y2="1308" stroke="#e06090" stroke-width="1.1" stroke-dasharray="5,3,1,3" marker-end="url(#ahP)"/>
<use href="#xtal" x="535" y="1380"/>
<polygon points="574,1396 584,1396 584,1392 591,1399 584,1406 584,1402 574,1402" fill="#111"/>
<g font-size="13" text-anchor="middle" fill="#222"><text x="554" y="1428">R3̄m</text><text x="619" y="1428">Fm3̄m</text></g>
<line x1="745" y1="1352" x2="655" y2="1396" stroke="#e0457a" stroke-width="1.2" stroke-dasharray="3,2" marker-end="url(#ahP)"/>

<text x="425" y="1454" font-size="17" text-anchor="middle" fill="#111">LMB</text>
<g font-size="17" text-anchor="middle" fill="#3a6fd0">
<text x="255" y="1466" textLength="150" lengthAdjust="spacingAndGlyphs">Dense Li deposition</text>
<text x="600" y="1466" textLength="91" lengthAdjust="spacingAndGlyphs">Suppressed</text>
<text x="600" y="1487" textLength="123" lengthAdjust="spacingAndGlyphs">phase transition</text>
<text x="254" y="1588" textLength="97" lengthAdjust="spacingAndGlyphs">Inhibited TM</text>
<text x="253" y="1608" textLength="78" lengthAdjust="spacingAndGlyphs">deposition</text>
<text x="423" y="1588" textLength="102" lengthAdjust="spacingAndGlyphs">Minimized EL</text>
<text x="423" y="1608" textLength="96" lengthAdjust="spacingAndGlyphs">consumption</text>
<text x="598" y="1588" textLength="67" lengthAdjust="spacingAndGlyphs">Less TM</text>
<text x="598" y="1608" textLength="83" lengthAdjust="spacingAndGlyphs">dissolution</text>
</g>
<rect x="178" y="1472" width="149" height="83" rx="6" fill="#fafafa" stroke="#3a6fd0" stroke-width="1.6"/>
<rect x="212" y="1474" width="35" height="79" fill="#8cccef"/>
<path d="M181,1474 L212,1474 C222,1480 226,1492 222,1500 C230,1508 226,1520 222,1526 C226,1536 220,1548 212,1553 L181,1553 Z" fill="#b4b4b4"/>
<rect x="181" y="1474" width="16" height="79" fill="#d2d2d2"/>
<line x1="273" y1="1513" x2="235" y2="1513" stroke="#222" stroke-width="1.5" marker-end="url(#ahB)"/>
<circle cx="307" cy="1491" r="10" fill="#f2b8f2"/><circle cx="307" cy="1535" r="10" fill="#f2b8f2"/>
<circle cx="282" cy="1513" r="10" fill="#dca0ea"/>
<text x="282" y="1518" font-size="13" text-anchor="middle" fill="#222">Li⁺</text>
<line x1="146" y1="1507" x2="178" y2="1474" stroke="#3a6fd0" stroke-width="1.3" stroke-dasharray="5,3"/>
<line x1="146" y1="1507" x2="178" y2="1553" stroke="#3a6fd0" stroke-width="1.3" stroke-dasharray="5,3"/>
<text x="88" y="1509" font-size="15" text-anchor="middle" fill="#222">e⁻</text>
<path d="M96,1506 q3,-4 6,0 q3,4 6,0 q3,-4 6,0 q3,4 6,0 q3,-4 6,0 q3,4 6,0" fill="none" stroke="#222" stroke-width="1.8" marker-end="url(#ahB)"/>
<g stroke="#e82020" stroke-width="4" stroke-linecap="round"><line x1="117" y1="1501" x2="129" y2="1513"/><line x1="129" y1="1501" x2="117" y2="1513"/></g>
<use href="#mFSA" x="385" y="1510"/>
<circle cx="436" cy="1500" r="4" fill="#d5a0e5"/>
<use href="#mFSI" x="470" y="1512"/>
<use href="#xtal" x="535" y="1496"/>
<line x1="574" y1="1516" x2="590" y2="1516" stroke="#888" stroke-width="1" marker-end="url(#ahB)"/>
<g font-size="13" text-anchor="middle" fill="#222"><text x="554" y="1546">R3̄m</text><text x="619" y="1546">Fm3̄m</text></g>
<line x1="747" y1="1492" x2="655" y2="1514" stroke="#3a6fd8" stroke-width="1.2" stroke-dasharray="3,2" marker-end="url(#ahBl)"/>
<line x1="643" y1="1622" x2="186" y2="1622" stroke="#333" stroke-width="1.1" stroke-dasharray="6,3,2,3" marker-end="url(#ahB)"/>
<g fill="#f1f7de" stroke="#c7d9a8"><circle cx="255" cy="1622" r="6"/><circle cx="382" cy="1622" r="6"/><circle cx="509" cy="1622" r="6"/></g>
<circle cx="636" cy="1622" r="6" fill="url(#gDotG)"/>
<g stroke="#e82020" stroke-width="4.5" stroke-linecap="round"><line x1="167" y1="1615" x2="180" y2="1629"/><line x1="180" y1="1615" x2="167" y2="1629"/></g>
<line x1="740" y1="1592" x2="652" y2="1621" stroke="#222" stroke-width="1.2" marker-end="url(#ahB)"/>
<g stroke="#e82020" stroke-width="4.5" stroke-linecap="round"><line x1="698" y1="1603" x2="711" y2="1617"/><line x1="711" y1="1603" x2="698" y2="1617"/></g>
<text x="629" y="1648" font-size="16" text-anchor="middle" fill="#222">TM</text>
<g font-size="17" text-anchor="middle" fill="#222">
<text x="67" y="1684">Cu</text><text x="113" y="1684">SEI</text><text x="425" y="1684" textLength="57" lengthAdjust="spacingAndGlyphs">Cycling</text>
<text x="707" y="1684">CEI</text><text x="765" y="1684">NCM811</text><text x="824" y="1684">Al</text>
</g>

<!-- right e: bar chart -->
<rect x="915" y="1178" width="18" height="9" fill="url(#gBarP)" stroke="#d070a8"/>
<text x="938" y="1189" font-size="14" fill="#222">AFLMB</text>
<rect x="915" y="1199" width="18" height="8" fill="url(#gBarT)" stroke="#3aa6a8"/>
<text x="938" y="1209" font-size="14" fill="#222">LMB</text>
<rect x="917" y="1219" width="23" height="128" fill="url(#gBarP)" stroke="#d070a8"/>
<rect x="945" y="1219" width="23" height="128" fill="url(#gBarT)" stroke="#3aa6a8"/>
<rect x="1000" y="1313" width="23" height="34" fill="url(#gBarP)" stroke="#d070a8"/>
<rect x="1028" y="1221" width="24" height="126" fill="url(#gBarT)" stroke="#3aa6a8"/>
<line x1="1000" y1="1219" x2="1022" y2="1219" stroke="#c8407a" stroke-width="2"/>
<line x1="1028" y1="1219" x2="1052" y2="1219" stroke="#2a9da3" stroke-width="2"/>
<path d="M1036,1219 L1044,1219 L1040,1225 Z" fill="#222"/>
<line x1="1012" y1="1222" x2="1012" y2="1278" stroke="#333" stroke-width="1" stroke-dasharray="2,2" marker-end="url(#ahB)"/>
<text x="1010" y="1309" font-size="14" text-anchor="middle" fill="#222">0.6M</text>
<rect x="902" y="1211" width="166" height="136" fill="none" stroke="#333" stroke-width="1.3"/>
<g stroke="#333" stroke-width="1.1"><line x1="897" y1="1219" x2="902" y2="1219"/><line x1="897" y1="1258" x2="902" y2="1258"/><line x1="897" y1="1297" x2="902" y2="1297"/><line x1="897" y1="1335" x2="902" y2="1335"/>
<line x1="942" y1="1347" x2="942" y2="1352"/><line x1="1026" y1="1347" x2="1026" y2="1352"/></g>
<g font-size="14" fill="#222" text-anchor="end"><text x="893" y="1224">3</text><text x="893" y="1263">2</text><text x="893" y="1302">1</text><text x="893" y="1340">0</text></g>
<g font-size="15" fill="#222" text-anchor="middle">
<text x="942" y="1366">1 cycle</text><text x="1026" y="1366">20 cycle</text>
<text transform="translate(851,1278) rotate(-90)">LiFSI</text>
<text transform="translate(869,1278) rotate(-90)">concentration (M)</text>
</g>
<!-- line chart -->
<line x1="902" y1="1384" x2="902" y2="1501" stroke="#333" stroke-width="1.3"/>
<line x1="902" y1="1501" x2="1068" y2="1501" stroke="#333" stroke-width="1.3"/>
<g stroke="#333" stroke-width="1.1">
<line x1="897" y1="1385" x2="902" y2="1385"/><line x1="897" y1="1414" x2="902" y2="1414"/><line x1="897" y1="1443" x2="902" y2="1443"/><line x1="897" y1="1472" x2="902" y2="1472"/><line x1="897" y1="1501" x2="902" y2="1501"/>
<line x1="927" y1="1501" x2="927" y2="1506"/><line x1="961" y1="1501" x2="961" y2="1506"/><line x1="995" y1="1501" x2="995" y2="1506"/><line x1="1029" y1="1501" x2="1029" y2="1506"/><line x1="1063" y1="1501" x2="1063" y2="1506"/>
</g>
<g font-size="13" fill="#222">
<g text-anchor="end"><text x="894" y="1390">0.04</text><text x="894" y="1419">0.03</text><text x="894" y="1448">0.02</text><text x="894" y="1477">0.01</text><text x="894" y="1506">0.00</text></g>
<g text-anchor="middle"><text x="927" y="1520">3.0</text><text x="961" y="1520">3.5</text><text x="995" y="1520">4.0</text><text x="1029" y="1520">4.5</text><text x="1061" y="1520">5.0</text></g>
</g>
<text x="983" y="1542" font-size="16" text-anchor="middle" fill="#222">Voltage (V)</text>
<g font-size="15" fill="#222" text-anchor="middle">
<text transform="translate(853,1443) rotate(-90)">Current density</text>
<text transform="translate(871,1443) rotate(-90)">(mA cm⁻²)</text>
</g>
<line x1="908" y1="1392" x2="932" y2="1392" stroke="#3cb83c" stroke-width="1.5"/>
<text x="937" y="1396" font-size="10.5" fill="#222">0.6M LiFSI FSA</text>
<line x1="908" y1="1403" x2="932" y2="1403" stroke="#111" stroke-width="1.5"/>
<text x="937" y="1407" font-size="10.5" fill="#222">3M LiFSI FSA</text>
<polyline points="902,1499 953,1497 980,1494 993,1489 1000,1477 1005,1450 1010,1423 1015,1396 1018,1384" fill="none" stroke="#3cb83c" stroke-width="1.5"/>
<polyline points="1047,1384 1053,1403 1060,1420 1065,1421 1068,1419" fill="none" stroke="#3cb83c" stroke-width="1.5"/>
<polyline points="902,1499 953,1497 987,1495 1013,1489 1037,1480 1068,1465" fill="none" stroke="#111" stroke-width="1.5"/>
<!-- maps -->
<rect x="837" y="1556" width="106" height="113" fill="#6b1508"/>
<rect x="837" y="1556" width="106" height="22" fill="#4e0e04" opacity="0.6"/>
<text x="890" y="1572" font-size="13" text-anchor="middle" fill="#fff">NiF₂⁻ (1 cyc)</text>
<text x="924" y="1648" font-size="12" text-anchor="middle" fill="#fff">20 µm</text>
<rect x="917" y="1655" width="14" height="5" fill="#fff"/>
<rect x="948" y="1556" width="107" height="113" fill="#a33" filter="url(#fHeat)"/>
<rect x="948" y="1556" width="107" height="22" fill="#4e1a08" opacity="0.7"/>
<text x="1001" y="1572" font-size="13" text-anchor="middle" fill="#fff">NiF₂⁻ (20 cyc)</text>
<text x="1033" y="1648" font-size="12" text-anchor="middle" fill="#fff">20 µm</text>
<rect x="1026" y="1655" width="16" height="5" fill="#111"/>
<rect x="1060" y="1541" width="10" height="128" fill="url(#gCbar)"/>
<text x="1067" y="1537" font-size="12" text-anchor="middle" fill="#222">150</text>
<text x="1067" y="1686" font-size="12" text-anchor="middle" fill="#222">0</text>
</svg>
</body></html>
